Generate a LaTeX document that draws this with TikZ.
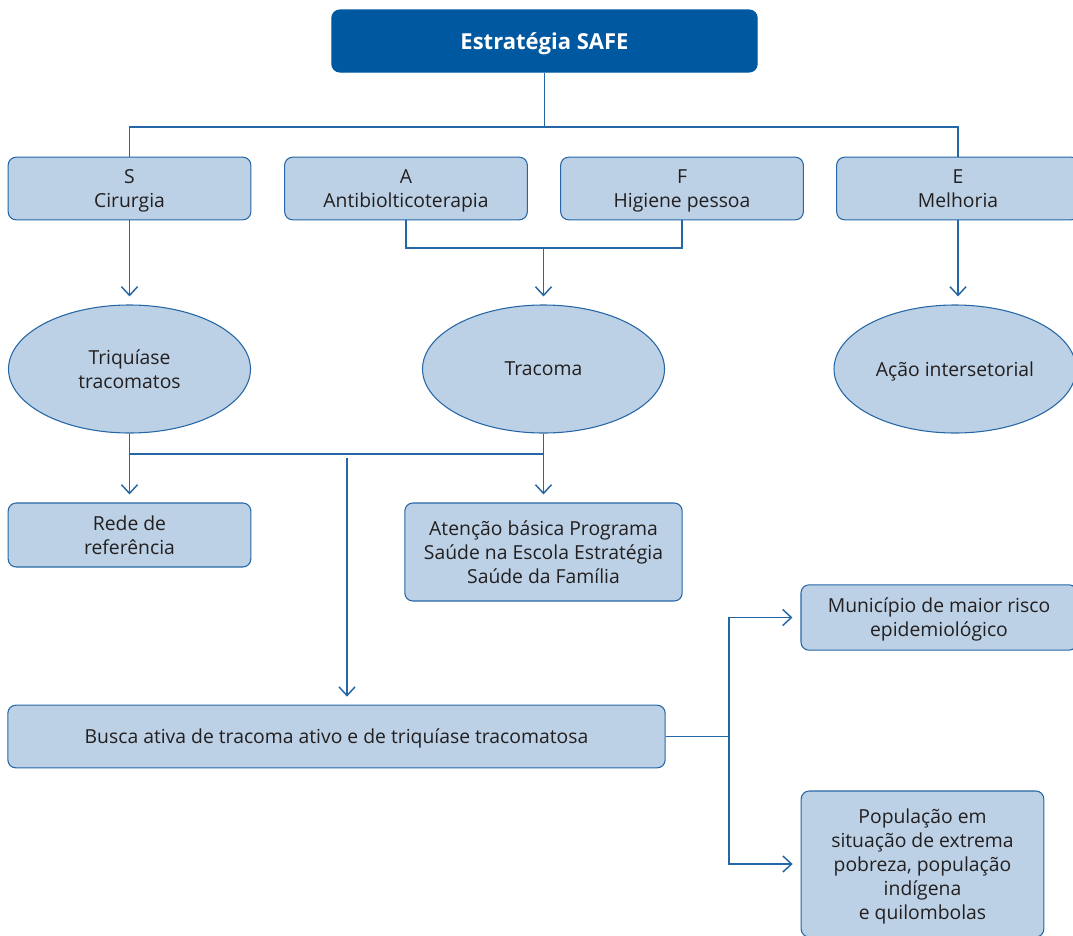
\documentclass[tikz,border=0pt]{standalone}
\usepackage{fontspec}
\setmainfont{Open Sans}
\usetikzlibrary{arrows.meta,shapes.geometric}

\definecolor{azulescuro}{HTML}{0059A0}
\definecolor{azulclaro}{HTML}{BCD1E5}
\definecolor{azullinha}{HTML}{2567A6}
\definecolor{texto}{HTML}{231F20}

\begin{document}
\begin{tikzpicture}[
    x=0.75pt, y=-0.75pt,
    caixa/.style={draw=azullinha, line width=0.8pt, fill=azulclaro, rounded corners=6pt,
        text=texto, align=center, inner sep=0pt, text depth=0pt, font=\fontsize{14.5}{18}\selectfont},
    oval/.style={caixa, ellipse, rounded corners=0pt, minimum width=181.5pt, minimum height=96pt},
    linha/.style={draw=azullinha, line width=1.1pt},
    seta/.style={linha, -{Straight Barb[length=6.5pt,width=12pt,line width=1.1pt]}, shorten >=6pt}
]
\useasboundingbox (0,0) rectangle (1073,935);

% topo
\node[caixa, fill=azulescuro, draw=azulescuro, text=white, minimum width=319pt, minimum height=46.5pt,
    font=\fontsize{16.5}{18}\selectfont\bfseries] (safe) at (544.5,41) {Estratégia SAFE};

% S A F E
\node[caixa, minimum width=182pt, minimum height=47pt] (cirurgia) at (129.5,188.5) {S\\Cirurgia};
\node[caixa, minimum width=182pt, minimum height=47pt] (antibio) at (406,188.5) {A\\Antibiolticoterapia};
\node[caixa, minimum width=182pt, minimum height=47pt] (higiene) at (682,188.5) {F\\Higiene pessoa};
\node[caixa, minimum width=182pt, minimum height=47pt] (melhoria) at (958,188.5) {E\\Melhoria};

% elipses
\node[oval] (triquiase) at (129.5,369) {Triquíase\\tracomatos};
\node[oval] (tracoma) at (543.5,369) {Tracoma};
\node[oval] (acao) at (955,369) {Ação intersetorial};

\node[caixa, minimum width=182pt, minimum height=48pt] (rede) at (129.5,535) {Rede de\\referência};
\node[caixa, minimum width=208pt, minimum height=73.5pt] (atencao) at (543.5,552)
    {Atenção básica Programa\\Saúde na Escola Estratégia\\Saúde da Família};
\node[caixa, minimum width=493pt, minimum height=47pt] (busca) at (336.5,736.5)
    {Busca ativa de tracoma ativo e de triquíase tracomatosa};
\node[caixa, minimum width=207pt, minimum height=49pt] (municipio) at (939,617.5)
    {Município de maior risco\\epidemiológico};
\node[caixa, minimum width=182pt, minimum height=109.5pt] (populacao) at (922.5,864)
    {População em\\situação de extrema\\pobreza, população\\indígena\\e quilombolas};

\coordinate (topo) at (544.5,127);
\coordinate (juntaAF) at (543.5,248);
\coordinate (juntaT) at (336.5,454);
\coordinate (inicioBusca) at (347,458);
\coordinate (ramo) at (729,736.5);

\draw[linha] (safe.south) -- (topo);
\draw[linha] (cirurgia.north) |- (topo) -| (melhoria.north);
\draw[linha] (antibio.south) |- (juntaAF) -| (higiene.south);
\draw[seta] (cirurgia.south) -- (triquiase.north);
\draw[seta] (juntaAF) -- (tracoma.north);
\draw[seta] (melhoria.south) -- (melhoria.south |- acao.north);
\draw[linha] (triquiase.south) |- (juntaT) -| (tracoma.south);
\draw[seta] (triquiase.south) -- (rede.north);
\draw[seta] (tracoma.south) -- (atencao.north);
\draw[seta] (inicioBusca) -- (inicioBusca |- busca.north);
\draw[linha] (busca.east) -- (ramo);
\draw[seta] (ramo) |- (municipio.west);
\draw[seta] (ramo) |- (populacao.west);
\end{tikzpicture}
\end{document}
